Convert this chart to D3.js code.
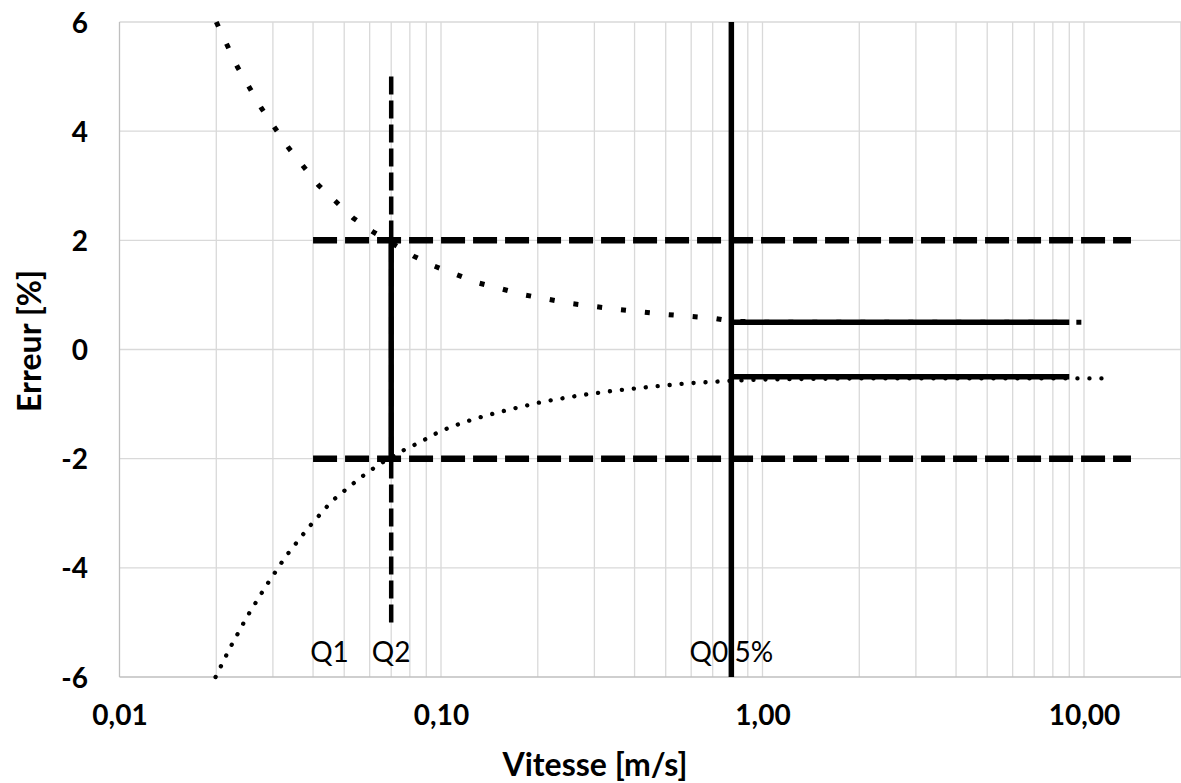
<!DOCTYPE html>
<html>
<head>
<meta charset="utf-8">
<script src="https://cdn.jsdelivr.net/npm/d3@7"></script>
<style>
  html, body { margin: 0; padding: 0; background: #fff; }
  svg { display: block; }
</style>
</head>
<body>
<svg id="chart" width="1181" height="783"></svg>
<script>
// ---------- data ----------
const xTicks = [0.01, 0.1, 1, 10];
const xTickLabels = ["0,01", "0,10", "1,00", "10,00"];
const yTicks = [-6, -4, -2, 0, 2, 4, 6];
const yTickLabels = ["-6", "-4", "-2", "0", "2", "4", "6"];

// upper MPE curve (square dots)
const supVit = [0.02, 0.0233, 0.0277, 0.0336, 0.0416, 0.0533, 0.0613, 0.0822, 0.0951, 0.1306, 0.182, 0.256, 0.36, 0.507, 0.709, 0.8, 1, 2, 5, 11.2];
const supErr = [6.0, 5.17, 4.41, 3.69, 3.01, 2.41, 2.16, 1.71, 1.53, 1.22, 1.00, 0.84, 0.73, 0.64, 0.57, 0.52, 0.5, 0.5, 0.5, 0.5];

// lower MPE curve (round dots)
const infVit = [0.0199, 0.022, 0.0249, 0.0285, 0.0329, 0.0386, 0.0457, 0.0558, 0.064, 0.0744, 0.0866, 0.0991, 0.1168, 0.138, 0.163, 0.21, 0.27, 0.35, 0.453, 0.585, 0.757, 1, 2, 5, 11.6];
const infErr = [-6.0, -5.48, -4.9, -4.34, -3.79, -3.27, -2.78, -2.36, -2.11, -1.88, -1.69, -1.5, -1.34, -1.21, -1.1, -0.95, -0.84, -0.75, -0.68, -0.62, -0.58, -0.55, -0.53, -0.53, -0.53];

// +/-2 % limits (long dash)
const limVit = [0.04, 14];
const limErr = [2, -2];

// Q2 marker (dashed vertical) and zone Q2 (solid vertical)
const q2Vit = 0.07;
const q2DashErr = [5, -5];
const q2SolidErr = [2, -2];

// Q0,5% vertical and +/-0.5 % limits
const q05Vit = 0.8;
const q05VertErr = [-6, 6];
const q05LimVit = [0.8, 9];
const q05LimErr = [0.5, -0.5];

// point labels
const qLabels = ["Q1", "Q2", "Q0,5%"];
const qLabelVit = [0.045, 0.07, 0.8];

// ---------- layout ----------
const plotLeft = 119.5, decadeW = 321.5;
const plotTop = 22, plotBottom = 677;

const x = d3.scaleLog().domain([0.01, 100]).range([plotLeft, plotLeft + 4 * decadeW]);
const y = d3.scaleLinear().domain([-6, 6]).range([plotBottom, plotTop]);

const svg = d3.select("#chart");
const FONT = "Lato, 'Open Sans', 'DejaVu Sans', sans-serif";

// gridlines
const minor = [];
[0.01, 0.1, 1, 10].forEach(d => { for (let k = 1; k <= 9; k++) minor.push(d * k); });
minor.push(100);

const grid = svg.append("g");
grid.selectAll("line.v").data(minor.filter(v => v > 0.0101)).join("line")
  .attr("x1", d => x(d)).attr("x2", d => x(d))
  .attr("y1", y(6)).attr("y2", y(-6))
  .attr("stroke", "#d9d9d9").attr("stroke-width", 1.3);
grid.selectAll("line.h").data(yTicks.filter(v => v > -6)).join("line")
  .attr("x1", x(0.01)).attr("x2", x(100))
  .attr("y1", d => y(d)).attr("y2", d => y(d))
  .attr("stroke", "#d9d9d9").attr("stroke-width", 1.3);

// axis lines
svg.append("line").attr("x1", x(0.01)).attr("x2", x(0.01)).attr("y1", y(6)).attr("y2", y(-6))
  .attr("stroke", "#bfbfbf").attr("stroke-width", 1.3);
svg.append("line").attr("x1", x(0.01)).attr("x2", x(100)).attr("y1", y(-6)).attr("y2", y(-6))
  .attr("stroke", "#bfbfbf").attr("stroke-width", 1.3);

// axes via d3 (labels only)
const xAxis = d3.axisBottom(x).tickValues(xTicks)
  .tickFormat((d, i) => xTickLabels[i]).tickSize(0).tickPadding(0);
const gx = svg.append("g").attr("transform", `translate(0,${y(-6)})`).call(xAxis);
gx.select(".domain").remove();
gx.selectAll("text").attr("dy", null).attr("y", 48)
  .attr("font-family", FONT).attr("font-size", 28).attr("font-weight", "bold").attr("fill", "#000");

const yAxis = d3.axisLeft(y).tickValues(yTicks)
  .tickFormat((d, i) => yTickLabels[i]).tickSize(0).tickPadding(0);
const gy = svg.append("g").attr("transform", `translate(88,0)`).call(yAxis);
gy.select(".domain").remove();
gy.selectAll("text").attr("x", 0).attr("dy", "0.36em")
  .attr("font-family", FONT).attr("font-size", 28).attr("font-weight", "bold").attr("fill", "#000");

// axis titles
svg.append("text").attr("x", 595).attr("y", 776).attr("text-anchor", "middle")
  .attr("font-family", FONT).attr("font-size", 32).attr("font-weight", "bold")
  .text("Vitesse [m/s]");
svg.append("text").attr("transform", `translate(41,341) rotate(-90)`).attr("text-anchor", "middle")
  .attr("font-family", FONT).attr("font-size", 32).attr("font-weight", "bold")
  .text("Erreur [%]");

// Q labels (under the lines)
svg.append("g").selectAll("text").data(qLabels).join("text")
  .attr("x", (d, i) => x(qLabelVit[i])).attr("y", y(-6) - 15)
  .attr("text-anchor", "middle")
  .attr("font-family", FONT).attr("font-size", 28).attr("fill", "#000")
  .text(d => d);

const line = d3.line().x(d => x(d[0])).y(d => y(d[1]));
const plot = svg.append("g");

// upper curve: square dots
plot.append("path").datum(d3.zip(supVit, supErr))
  .attr("d", line).attr("fill", "none").attr("stroke", "#000")
  .attr("stroke-width", 5).attr("stroke-dasharray", "5,19").attr("stroke-linecap", "butt");

// lower curve: round dots
plot.append("path").datum(d3.zip(infVit, infErr))
  .attr("d", line).attr("fill", "none").attr("stroke", "#000")
  .attr("stroke-width", 4.3).attr("stroke-dasharray", "0.1,11.9").attr("stroke-linecap", "round");

// +/-2 limits
limErr.forEach(e => {
  plot.append("path").datum(limVit.map(v => [v, e]))
    .attr("d", line).attr("fill", "none").attr("stroke", "#000")
    .attr("stroke-width", 6.5).attr("stroke-dasharray", "24,8");
});

// Q2 dashed vertical
plot.append("path").datum(q2DashErr.map(e => [q2Vit, e]))
  .attr("d", line).attr("fill", "none").attr("stroke", "#000")
  .attr("stroke-width", 4.5).attr("stroke-dasharray", "18,6");
// Q2 solid vertical
plot.append("path").datum(q2SolidErr.map(e => [q2Vit, e]))
  .attr("d", line).attr("fill", "none").attr("stroke", "#000").attr("stroke-width", 5.5);

// Q0,5% vertical
plot.append("path").datum(q05VertErr.map(e => [q05Vit, e]))
  .attr("d", line).attr("fill", "none").attr("stroke", "#000").attr("stroke-width", 5.5);

// +/-0.5 limits
q05LimErr.forEach(e => {
  plot.append("path").datum(q05LimVit.map(v => [v, e]))
    .attr("d", line).attr("fill", "none").attr("stroke", "#000").attr("stroke-width", 5.5);
});
</script>
</body>
</html>
